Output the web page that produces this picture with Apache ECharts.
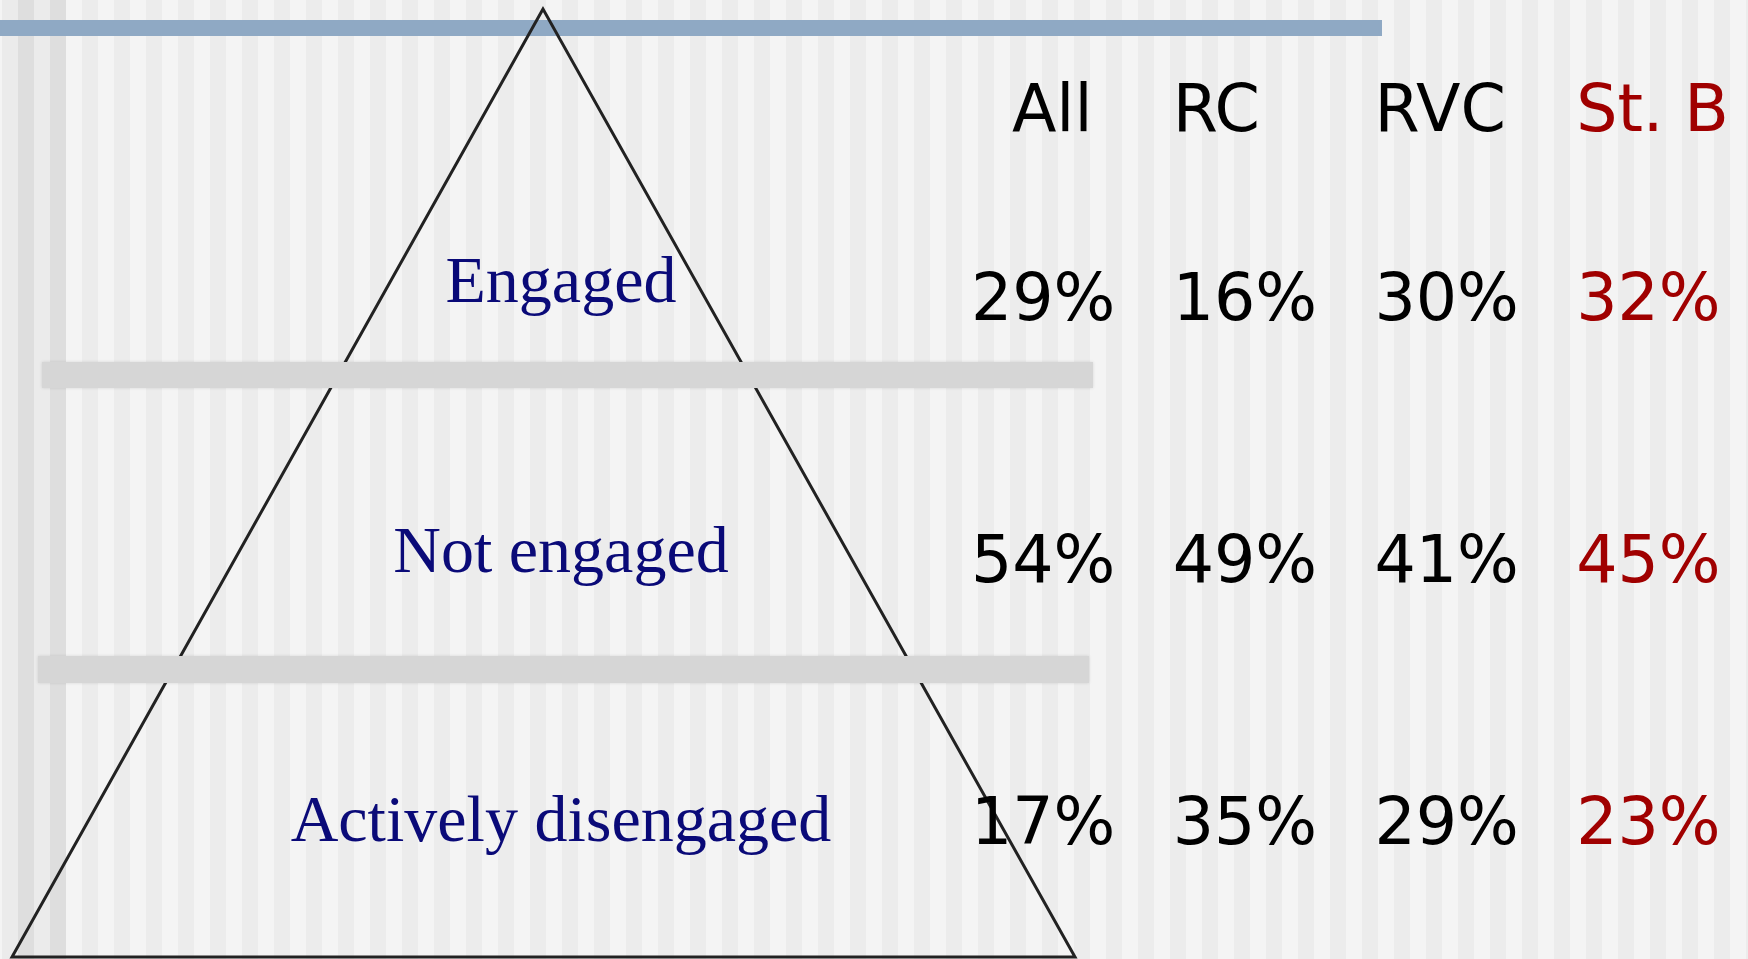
<!doctype html>
<html lang="en">
<head>
    <meta charset="UTF-8">
    <title>Engagement pyramid</title>
    <script src="https://cdn.jsdelivr.net/npm/echarts@6/dist/echarts.min.js"></script>
    <style>
        html, body { margin: 0; padding: 0; background: #f4f4f4; }
        #main { width: 1748px; height: 959px; }
    </style>
</head>
<body>
<div id="main"></div>
<script>
    // data
    var levels = ['Engaged', 'Not engaged', 'Actively disengaged'];
    var groups = ['All', 'RC', 'RVC', 'St. B'];
    var valAll = [29, 54, 17];
    var valRC = [16, 49, 35];
    var valRVC = [30, 41, 29];
    var valStB = [32, 45, 23];
    var groupValues = [valAll, valRC, valRVC, valStB];
    var groupColors = ['#000000', '#000000', '#000000', '#a00000'];

    var pctFont = '"DejaVu Sans", sans-serif';
    var serifFont = '"Liberation Serif", "DejaVu Serif", serif';

    // background: vertical stripes, blue rule, pyramid, grey dividers
    var bg = [];
    bg.push({ type: 'rect', shape: { x: 2, y: 0, width: 64, height: 959 }, style: { fill: '#ebebeb' }, silent: true });
    for (var x = 18; x < 1748; x += 32) {
        bg.push({
            type: 'rect',
            shape: { x: x, y: 0, width: 16, height: 959 },
            style: { fill: x < 66 ? '#dedede' : '#ececec' },
            silent: true
        });
    }
    bg.push({ type: 'rect', shape: { x: 0, y: 20, width: 1382, height: 16 }, style: { fill: '#8fa9c4' }, silent: true });
    bg.push({
        type: 'polygon',
        shape: { points: [[543, 9], [12, 957], [1075, 957]] },
        style: { fill: 'none', stroke: '#222222', lineWidth: 3 },
        silent: true
    });
    bg.push({
        type: 'rect', shape: { x: 42, y: 362, width: 1051, height: 26 },
        style: { fill: '#d6d6d6', shadowBlur: 3, shadowColor: 'rgba(0,0,0,0.12)' }, silent: true
    });
    bg.push({
        type: 'rect', shape: { x: 38, y: 656, width: 1051, height: 27 },
        style: { fill: '#d6d6d6', shadowBlur: 3, shadowColor: 'rgba(0,0,0,0.12)' }, silent: true
    });

    var series = [];

    // level names inside the pyramid
    series.push({
        type: 'scatter',
        xAxisIndex: 1,
        yAxisIndex: 1,
        symbolSize: 1,
        itemStyle: { color: 'rgba(0,0,0,0)', opacity: 1 },
        data: levels.map(function (l) { return ['level', l]; }),
        label: {
            show: true,
            position: 'inside',
            align: 'center',
            verticalAlign: 'middle',
            fontFamily: serifFont,
            fontSize: 66,
            color: '#0a0a78',
            formatter: function (p) { return p.value[1]; }
        }
    });

    // percentage table, one series per group
    groups.forEach(function (g, j) {
        series.push({
            name: g,
            type: 'scatter',
            xAxisIndex: 0,
            yAxisIndex: 0,
            symbolSize: 1,
            itemStyle: { color: 'rgba(0,0,0,0)', opacity: 1 },
            data: levels.map(function (l, i) { return [g, l, groupValues[j][i]]; }),
            label: {
                show: true,
                position: 'inside',
                align: 'left',
                verticalAlign: 'middle',
                fontFamily: pctFont,
                fontSize: 65,
                color: groupColors[j],
                formatter: function (p) { return p.value[2] + '%'; }
            }
        });
    });

    var myChart = echarts.init(document.getElementById('main'));
    var option = {
        backgroundColor: '#f4f4f4',
        animation: false,
        graphic: { elements: bg },
        grid: [
            { left: 870, width: 807, top: 172, height: 786 },
            { left: 0, width: 1122, top: 150, height: 816 }
        ],
        xAxis: [
            {
                type: 'category',
                gridIndex: 0,
                position: 'top',
                data: groups,
                axisLine: { show: false },
                axisTick: { show: false },
                splitLine: { show: false },
                axisLabel: {
                    interval: 0,
                    align: 'left',
                    verticalAlign: 'middle',
                    margin: 58,
                    fontFamily: pctFont,
                    fontSize: 65,
                    color: function (v, i) { return groupColors[i]; },
                    formatter: function (v, i) { return i === 0 ? '{pad|' + v + '}' : v; },
                    rich: {
                        pad: { padding: [0, 0, 0, 41], fontFamily: pctFont, fontSize: 65, color: '#000' }
                    }
                }
            },
            {
                type: 'category',
                gridIndex: 1,
                data: ['level'],
                show: false
            }
        ],
        yAxis: [
            {
                type: 'category',
                gridIndex: 0,
                inverse: true,
                data: levels,
                show: false
            },
            {
                type: 'category',
                gridIndex: 1,
                inverse: true,
                data: levels,
                show: false
            }
        ],
        series: series
    };
    myChart.setOption(option);
</script>
</body>
</html>
